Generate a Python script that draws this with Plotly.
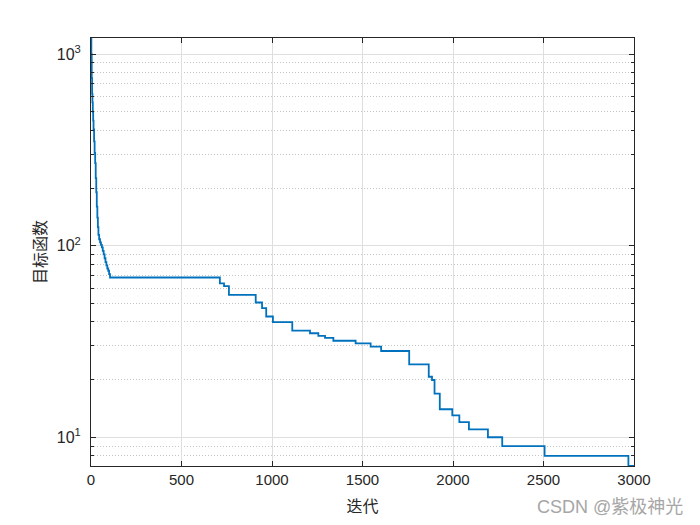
import plotly.graph_objects as go

# Iteration at which the best objective changes, and the new value (step curve)
iterations = [0, 2, 4, 6, 8, 10, 12, 14, 17, 20, 23, 26, 29, 32, 35, 38, 41, 45, 50, 55,
              60, 65, 70, 75, 80, 85, 90, 95, 100, 105,
              712, 735, 762, 910, 945, 968, 1005, 1112, 1210, 1256, 1293, 1339,
              1462, 1545, 1603, 1758, 1866, 1884, 1898, 1927, 1996, 2035, 2088,
              2193, 2272, 2506, 2969, 3000]
objective = [1213, 1000, 750, 620, 560, 500, 450, 405, 350, 305, 270, 225, 190, 160, 140, 125, 114, 108, 104, 101,
             98, 94, 90, 86, 82, 79, 76, 74, 71, 68.2,
             63.5, 61.5, 55.4, 50.5, 47.2, 42.7, 39.9, 36.0, 34.9, 33.8, 33.0, 31.9,
             30.9, 29.7, 28.2, 24.0, 20.7, 19.9, 16.9, 14.0, 13.0, 12.0, 11.0,
             10.0, 9.0, 8.0, 7.08, 7.08]

x_ticks = [0, 500, 1000, 1500, 2000, 2500, 3000]
y_major = [10, 100, 1000]
y_major_text = ["10<sup>1</sup>", "10<sup>2</sup>", "10<sup>3</sup>"]
y_minor = [m * d for d in (1, 10, 100, 1000) for m in range(2, 10)]

x_title = "迭代"
y_title = "目标函数"
watermark = "CSDN @紫极神光"

fig = go.Figure()
fig.add_trace(go.Scatter(
    x=iterations, y=objective, mode="lines",
    line=dict(color="#0072BD", width=1.8, shape="hv"),
    showlegend=False, hoverinfo="skip",
))

axis_color = "#262626"
grid_color = "#dedede"
base_font = dict(family="Liberation Sans, Arial, sans-serif", size=15, color=axis_color)
ytick_font = dict(family="Liberation Sans, Arial, sans-serif", size=16, color=axis_color)
cjk_font = dict(family="Noto Sans CJK SC, sans-serif", size=16, color=axis_color)

# page body has an 8px default margin, so the figure is sized to fit the window
fig.update_layout(
    width=692, height=517,
    margin=dict(l=83, r=66, t=30, b=59, autoexpand=False),
    paper_bgcolor="white", plot_bgcolor="white",
    font=base_font,
    xaxis=dict(
        range=[0, 3000], tickvals=x_ticks, ticks="inside", ticklen=5, tickcolor=axis_color,
        showline=True, linecolor=axis_color, linewidth=1, mirror="ticks",
        showgrid=True, gridcolor=grid_color, gridwidth=1, zeroline=False,
        automargin=False,
        title=dict(text=x_title, font=cjk_font, standoff=13),
        tickfont=base_font,
    ),
    yaxis=dict(
        type="log", range=[0.850, 3.084],
        tickvals=y_major, ticktext=y_major_text,
        ticks="inside", ticklen=5, tickcolor=axis_color,
        showline=True, linecolor=axis_color, linewidth=1, mirror="ticks",
        showgrid=True, gridcolor=grid_color, gridwidth=1, zeroline=False,
        automargin=False, ticklabelstandoff=6,
        minor=dict(tickvals=y_minor, ticks="inside", ticklen=3, tickcolor=axis_color,
                   showgrid=True, gridcolor="#c4c4c4", griddash="1px,2px", gridwidth=1),
        title=dict(text=y_title, font=cjk_font, standoff=6),
        tickfont=ytick_font,
    ),
)

fig.add_annotation(
    text=watermark, xref="paper", yref="paper", x=1.094, y=-0.096,
    xanchor="right", yanchor="middle", showarrow=False,
    font=dict(family="Liberation Sans, Noto Sans CJK SC, sans-serif", size=18, color="#a6a6a6"),
)

fig.write_html("out.html")
